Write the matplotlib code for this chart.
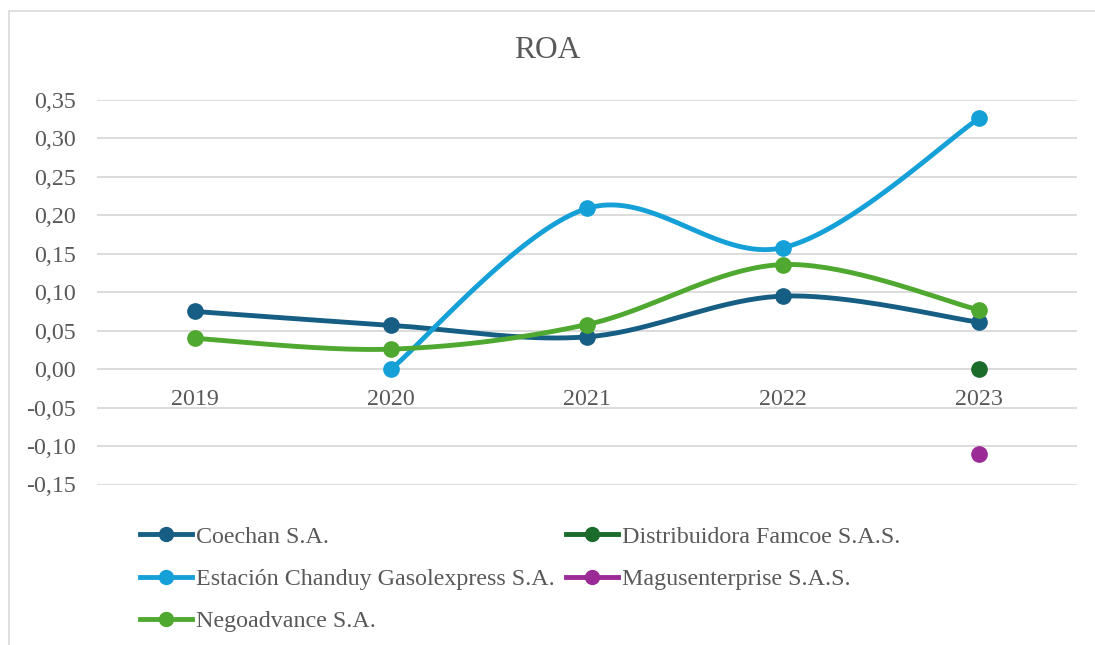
import numpy as np
import matplotlib
matplotlib.use("Agg")
import matplotlib.pyplot as plt
from matplotlib.patches import Rectangle

years = ["2019", "2020", "2021", "2022", "2023"]

coechan = [0.075, 0.057, 0.042, 0.095, 0.061]
famcoe = [None, None, None, None, 0.000]
chanduy = [None, 0.000, 0.209, 0.158, 0.326]
magus = [None, None, None, None, -0.110]
negoadvance = [0.040, 0.026, 0.058, 0.136, 0.077]

series = [
    ("Coechan S.A.", coechan, "#175e84"),
    ("Distribuidora Famcoe S.A.S.", famcoe, "#1b6b2b"),
    ("Estación Chanduy Gasolexpress S.A.", chanduy, "#16a0d8"),
    ("Magusenterprise S.A.S.", magus, "#9c2a96"),
    ("Negoadvance S.A.", negoadvance, "#4fa82f"),
]


def smooth(xs, ys, n=40):
    # Catmull-Rom style bezier, like Excel's smoothed lines
    xs = np.asarray(xs, float)
    ys = np.asarray(ys, float)
    if len(xs) < 2:
        return xs, ys
    px = np.concatenate([[xs[0]], xs, [xs[-1]]])
    py = np.concatenate([[ys[0]], ys, [ys[-1]]])
    outx, outy = [], []
    t = np.linspace(0, 1, n)
    for i in range(1, len(px) - 2):
        p0 = np.array([px[i], py[i]])
        p3 = np.array([px[i + 1], py[i + 1]])
        c1 = p0 + (np.array([px[i + 1], py[i + 1]]) - np.array([px[i - 1], py[i - 1]])) / 6
        c2 = p3 - (np.array([px[i + 2], py[i + 2]]) - np.array([px[i], py[i]])) / 6
        b = ((1 - t) ** 3)[:, None] * p0 + (3 * (1 - t) ** 2 * t)[:, None] * c1 \
            + (3 * (1 - t) * t ** 2)[:, None] * c2 + (t ** 3)[:, None] * p3
        outx.extend(b[:, 0])
        outy.extend(b[:, 1])
    return np.array(outx), np.array(outy)


plt.rcParams["font.family"] = ["Liberation Serif", "DejaVu Serif"]
text_col = "#595959"

fig = plt.figure(figsize=(10.95, 6.45), dpi=100)
ax = fig.add_axes([97 / 1095, 1 - 484.5 / 645, 980 / 1095, 384.5 / 645])

x = np.arange(len(years))
handles = {}
for name, vals, col in series:
    pts = [(xi, v) for xi, v in zip(x, vals) if v is not None]
    xs = [p[0] for p in pts]
    ys = [p[1] for p in pts]
    sx, sy = smooth(xs, ys)
    ax.plot(sx, sy, color=col, lw=3.5, solid_capstyle="round", zorder=3)
    ax.plot(xs, ys, "o", color=col, ms=11, zorder=4)
    h, = ax.plot([], [], color=col, lw=3.5, marker="o", ms=10)
    handles[name] = h

ax.set_xlim(-0.5, 4.5)
ax.set_ylim(-0.15, 0.35)
yt = np.arange(-0.15, 0.351, 0.05)
ax.set_yticks(yt)
ax.set_yticklabels([f"{v:.2f}".replace(".", ",").replace("-0,00", "0,00") for v in yt])
ax.yaxis.grid(True, color="#d9d9d9", lw=1.3)
ax.set_axisbelow(True)
ax.set_xticks(x)
ax.set_xticklabels(years)
for s in ["left", "right", "top"]:
    ax.spines[s].set_visible(False)
ax.spines["bottom"].set_position(("data", 0))
ax.spines["bottom"].set_visible(False)
ax.tick_params(axis="both", length=0, labelsize=17.3, labelcolor=text_col)
ax.tick_params(axis="y", pad=15)
ax.tick_params(axis="x", pad=14)

fig.text(0.5, 1 - 50 / 645, "ROA", ha="center", va="center", fontsize=22.7, color=text_col)

# row-major order across two columns
order = ["Coechan S.A.", "Estación Chanduy Gasolexpress S.A.", "Negoadvance S.A.",
         "Distribuidora Famcoe S.A.S.", "Magusenterprise S.A.S."]
leg = fig.legend([handles[n] for n in order], order, loc="upper left",
                 bbox_to_anchor=(140 / 1095, 1 - 526 / 645), ncol=2,
                 frameon=False, fontsize=17.3, labelcolor=text_col, handlelength=2.15,
                 handletextpad=0.2, columnspacing=0.45, labelspacing=0.85, borderaxespad=0,
                 borderpad=0)

fig.patches.append(Rectangle((9 / 1095, -0.1), 1.2, 1 - 11 / 645 + 0.1, transform=fig.transFigure,
                             fill=False, edgecolor="#d9d9d9", lw=1.2))

fig.savefig("out.png", dpi=100)
